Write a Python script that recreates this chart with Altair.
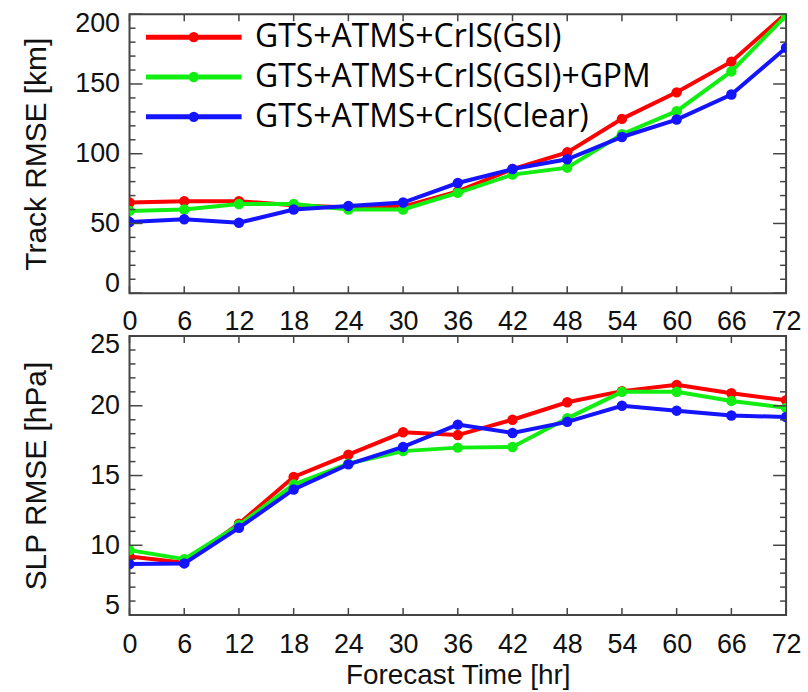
import altair as alt
import pandas as pd

hours = [0, 6, 12, 18, 24, 30, 36, 42, 48, 54, 60, 66, 72]
series_names = ["GTS+ATMS+CrIS(GSI)", "GTS+ATMS+CrIS(GSI)+GPM", "GTS+ATMS+CrIS(Clear)"]
series_colors = ["#ff0000", "#12ee12", "#1414ff"]

track_gsi = [65, 66, 66, 63, 61.5, 62, 73, 89, 101, 125, 144, 166, 200.5]
track_gpm = [59, 60, 64, 64, 60, 60, 72, 85, 90, 114, 130.5, 159, 199]
track_clear = [51, 53, 50.5, 60, 62.5, 65, 79, 89, 96, 112, 124.5, 142.5, 176]

slp_gsi = [9.2, 8.75, 11.55, 14.9, 16.5, 18.1, 17.9, 19.0, 20.25, 21.05, 21.5, 20.9, 20.4]
slp_gpm = [9.65, 9.0, 11.45, 14.35, 15.85, 16.75, 17.0, 17.05, 19.1, 21.0, 21.0, 20.35, 19.85]
slp_clear = [8.65, 8.7, 11.25, 14.0, 15.8, 17.05, 18.65, 18.05, 18.85, 20.0, 19.65, 19.3, 19.2]

track_major = [0, 50, 100, 150, 200]
track_minor = [v for v in range(0, 201, 10) if v % 50 != 0]
slp_major = [5, 10, 15, 20, 25]
slp_minor = [v for v in range(5, 26) if v % 5 != 0]

W, H = 659, 280
FRAME = "#444444"
FONT = "Liberation Sans"

color_scale = alt.Scale(domain=series_names, range=series_colors)
legend_symbol = "M-8,0L8,0M-0.45,0A0.45,0.45 0 1,0 0.45,0A0.45,0.45 0 1,0 -0.45,0"
top_legend = alt.Legend(
    orient="none", legendX=48.5, legendY=7, title=None,
    symbolType=legend_symbol, symbolSize=144, symbolStrokeWidth=5,
    labelFont="Open Sans", labelFontSize=32, labelColor="#000000",
    labelLimit=800, labelOffset=45.5, rowPadding=8, padding=0,
)


def panel(series_lists, ydomain, major, minor, ytitle, xtitle, legend, xlabel_pad):
    xs = alt.Scale(domain=[0, 72], nice=False, zero=False)
    ys = alt.Scale(domain=ydomain, nice=False, zero=False)
    xaxis = alt.Axis(
        values=hours, title=xtitle, ticks=False, domain=False, grid=False,
        labelFont=FONT, labelFontSize=27, labelColor="#111111", labelPadding=xlabel_pad,
        labelFlush=False, labelOverlap=False,
        titleFont=FONT, titleFontSize=28, titleFontWeight="normal", titleColor="#111111",
        titleY=47, titleBaseline="top",
    )
    yaxis = alt.Axis(
        values=major, title=ytitle, ticks=False, domain=False, grid=False,
        labelFont=FONT, labelFontSize=27, labelColor="#111111", labelPadding=10,
        labelFlush=True, labelFlushOffset=4, labelOverlap=False,
        titleFont=FONT, titleFontSize=30, titleFontWeight="normal", titleColor="#111111",
        titleX=-108, titleY=H / 2, titleBaseline="top", titleAngle=270, titleAlign="center",
    )
    X = alt.X("hour:Q", scale=xs, axis=xaxis)
    Y = alt.Y("value:Q", scale=ys, axis=yaxis)

    layers = []
    for name, vals in zip(series_names, series_lists):
        df = pd.DataFrame({"hour": hours, "value": vals, "series": name})
        base = alt.Chart(df).encode(
            x=X, y=Y,
            color=alt.Color("series:N", scale=color_scale, legend=legend),
        )
        layers.append(base.mark_line(strokeWidth=4, clip=True))
        layers.append(base.mark_point(filled=True, size=110, opacity=1, clip=True))

    ymaj = pd.DataFrame({"value": major})
    ymin = pd.DataFrame({"value": minor})
    xt = pd.DataFrame({"hour": hours})
    tick_style = dict(color=FRAME, strokeWidth=1.5)
    layers += [
        alt.Chart(ymaj).mark_rule(**tick_style).encode(y=Y, x=alt.value(0), x2=alt.value(13)),
        alt.Chart(ymin).mark_rule(**tick_style).encode(y=Y, x=alt.value(0), x2=alt.value(6)),
        alt.Chart(ymaj).mark_rule(**tick_style).encode(y=Y, x=alt.value(W), x2=alt.value(W - 13)),
        alt.Chart(ymin).mark_rule(**tick_style).encode(y=Y, x=alt.value(W), x2=alt.value(W - 6)),
        alt.Chart(xt).mark_rule(**tick_style).encode(x=X, y=alt.value(H), y2=alt.value(H - 7)),
        alt.Chart(xt).mark_rule(**tick_style).encode(x=X, y=alt.value(0), y2=alt.value(7)),
    ]
    return alt.layer(*layers).properties(width=W, height=H)


top = panel([track_gsi, track_gpm, track_clear], [0, 200], track_major, track_minor,
            "Track RMSE [km]", None, top_legend, 15)
bottom = panel([slp_gsi, slp_gpm, slp_clear], [5, 25], slp_major, slp_minor,
               "SLP RMSE [hPa]", "Forecast Time [hr]", None, 17)

chart = (
    alt.vconcat(top, bottom, spacing=43, bounds="flush")
    .resolve_scale(color="independent")
    .properties(padding={"left": 21, "top": 7, "right": 5, "bottom": 5}, background="white")
    .configure_view(stroke=FRAME, strokeWidth=2)
)

chart.save("out.html", embed_options={"renderer": "svg", "actions": False})
